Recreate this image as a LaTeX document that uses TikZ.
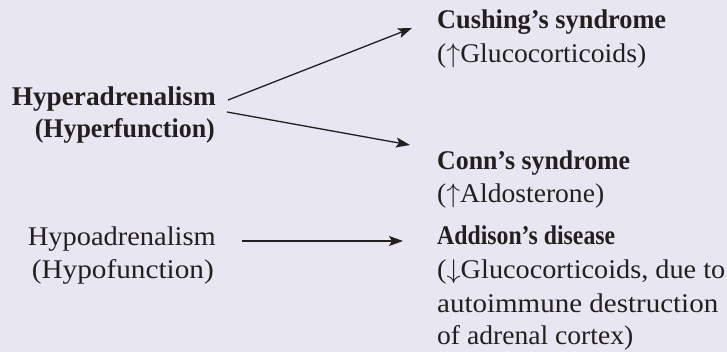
\documentclass[tikz,border=0pt]{standalone}
\usepackage{fix-cm}
\usepackage{graphicx}
\usepackage{fontspec}
\setmainfont{Liberation Serif}
\usetikzlibrary{arrows.meta}
\definecolor{paper}{RGB}{232,231,241}
\definecolor{ink}{RGB}{35,31,32}
% set a line of text to a given width, keeping its height
\newcommand\fitw[2]{\resizebox{#1pt}{\height}{#2}}
\begin{document}
\begin{tikzpicture}[x=1pt,y=-1pt,
  txt/.style={inner sep=0pt,text=ink,font=\fontsize{27}{32}\selectfont},
  hd/.style={txt,font=\fontsize{27}{32}\selectfont\bfseries},
  lbl/.style={anchor=base east},
  rgt/.style={anchor=base west},
  arr/.style={draw=ink,line width=1.3pt,-{Stealth[length=14pt,width=10pt,inset=3pt]}}]
  % background panel
  \fill[paper] (0,0) rectangle (727,352);
  \useasboundingbox (0,0) rectangle (727,352);

  % left column: states of adrenal function
  \node[hd,lbl]  (hyper)  at (216,106) {\fitw{204}{Hyperadrenalism}};
  \node[hd,lbl]  (hyperf) at (215,138) {\fitw{180}{(Hyperfunction)}};
  \node[txt,lbl] (hypo)   at (216,246) {\fitw{188}{Hypoadrenalism}};
  \node[txt,lbl] (hypof)  at (214,278) {\fitw{182}{(Hypofunction)}};

  % right column: resulting disorders
  \node[hd,rgt]  (cush)    at (437,29)  {\fitw{229}{Cushing’s syndrome}};
  \node[txt,rgt] (cushsub) at (437,63)  {\fitw{209}{($\uparrow$Glucocorticoids)}};
  \node[hd,rgt]  (conn)    at (437,170) {\fitw{193}{Conn’s syndrome}};
  \node[txt,rgt] (connsub) at (437,203) {\fitw{167}{($\uparrow$Aldosterone)}};
  \node[hd,rgt]  (addi)    at (437,245) {\fitw{178}{Addison’s disease}};
  \node[txt,rgt] (addia)   at (437,278) {\fitw{288}{($\downarrow$Glucocorticoids, due to}};
  \node[txt,rgt] (addib)   at (437,312) {\fitw{281}{autoimmune destruction}};
  \node[txt,rgt] (addic)   at (437,344) {\fitw{196}{of adrenal cortex)}};

  % connectors
  \draw[arr] ([shift={(12,-6)}]hyper.base east) -- ([shift={(-25,-1)}]cush.base west);
  \draw[arr] ([shift={(11,6)}]hyper.base east) -- ([shift={(-27,-25)}]conn.base west);
  \draw[arr] ([shift={(26,-5)}]hypo.base east) -- ([shift={(-34,-4)}]addi.base west);
\end{tikzpicture}
\end{document}
